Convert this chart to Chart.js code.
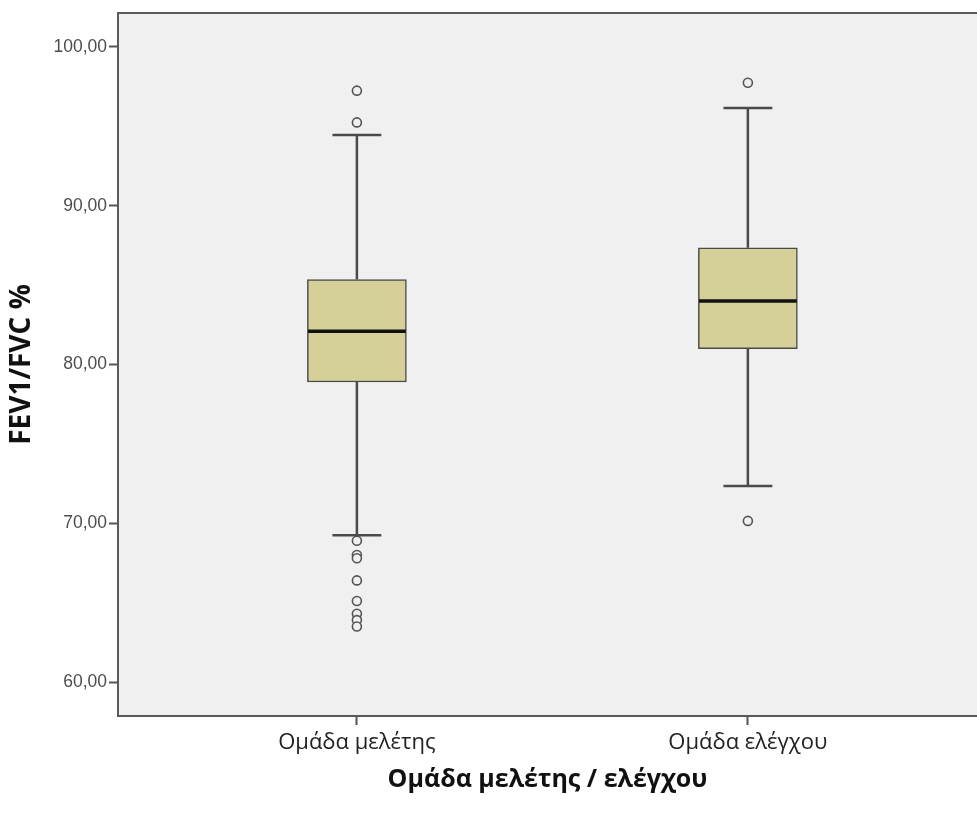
<!DOCTYPE html>
<html>
<head>
<meta charset="utf-8">
<script src="https://cdn.jsdelivr.net/npm/chart.js@4.4.1/dist/chart.umd.min.js"></script>
<style>
    html, body { margin: 0; padding: 0; background: #fff; overflow: hidden; }
    #chart { display: block; }
</style>
</head>
<body>
<canvas id="chart" width="977" height="816"></canvas>
<script>
// Box plot data
const groups = ['Ομάδα μελέτης', 'Ομάδα ελέγχου'];
const groupPos = [1, 2];
const whiskerLow = [69.25, 72.35];
const q1 = [78.9, 81.0];
const medians = [82.1, 84.0];
const q3 = [85.35, 87.35];
const whiskerHigh = [94.45, 96.15];
const outliersStudy = [97.25, 95.25, 68.9, 68.0, 67.8, 66.4, 65.1, 64.3, 63.9, 63.5];
const outliersControl = [97.75, 70.15];
const yTicks = [60, 70, 80, 90, 100];

const boxColor = '#d5d097';
const lineColor = '#4a4a4a';

// fond gris de la zone de tracé + cadre du haut
const plotBackground = {
    id: 'plotBackground',
    beforeDraw(chart) {
        const { ctx, chartArea: a } = chart;
        ctx.save();
        ctx.fillStyle = '#f0f0f0';
        ctx.fillRect(a.left, a.top, a.right - a.left, a.bottom - a.top);
        ctx.strokeStyle = '#5a5a5a';
        ctx.lineWidth = 2;
        ctx.beginPath();
        ctx.moveTo(a.left, a.top);
        ctx.lineTo(a.right, a.top);
        ctx.stroke();
        ctx.restore();
    }
};

// moustaches et médianes, dessinées à partir des échelles
const boxExtras = {
    id: 'boxExtras',
    afterDatasetsDraw(chart) {
        const { ctx, scales: { x, y } } = chart;
        ctx.save();
        groupPos.forEach((pos, i) => {
            const cx = x.getPixelForValue(pos);
            const capHalf = x.getPixelForValue(pos + 0.0625) - cx;
            const boxHalf = x.getPixelForValue(pos + 0.125) - cx;
            ctx.strokeStyle = lineColor;
            ctx.lineWidth = 2.5;
            ctx.beginPath();
            ctx.moveTo(cx, y.getPixelForValue(q3[i]));
            ctx.lineTo(cx, y.getPixelForValue(whiskerHigh[i]));
            ctx.moveTo(cx, y.getPixelForValue(q1[i]));
            ctx.lineTo(cx, y.getPixelForValue(whiskerLow[i]));
            ctx.moveTo(cx - capHalf, y.getPixelForValue(whiskerHigh[i]));
            ctx.lineTo(cx + capHalf, y.getPixelForValue(whiskerHigh[i]));
            ctx.moveTo(cx - capHalf, y.getPixelForValue(whiskerLow[i]));
            ctx.lineTo(cx + capHalf, y.getPixelForValue(whiskerLow[i]));
            ctx.stroke();

            ctx.strokeStyle = '#111';
            ctx.lineWidth = 3.5;
            ctx.beginPath();
            ctx.moveTo(cx - boxHalf, y.getPixelForValue(medians[i]));
            ctx.lineTo(cx + boxHalf, y.getPixelForValue(medians[i]));
            ctx.stroke();
        });
        ctx.restore();
    }
};

const outlierPoints = [
    ...outliersStudy.map(v => ({ x: groupPos[0], y: v })),
    ...outliersControl.map(v => ({ x: groupPos[1], y: v }))
];

new Chart(document.getElementById('chart'), {
    type: 'bar',
    data: {
        datasets: [
            {
                type: 'bar',
                data: groupPos.map((pos, i) => ({ x: pos, y: [q1[i], q3[i]] })),
                backgroundColor: boxColor,
                borderColor: lineColor,
                borderWidth: 1.5,
                borderSkipped: false,
                barThickness: 99,
                order: 2
            },
            {
                type: 'scatter',
                data: outlierPoints,
                pointRadius: 4.5,
                pointBorderWidth: 1.6,
                pointBorderColor: '#555',
                pointBackgroundColor: '#f0f0f0',
                order: 1
            }
        ]
    },
    options: {
        responsive: false,
        animation: false,
        layout: {
            autoPadding: false,
            padding: { top: 13, right: 0, left: 0, bottom: 0 }
        },
        plugins: {
            legend: { display: false },
            tooltip: { enabled: false }
        },
        scales: {
            x: {
                type: 'linear',
                offset: false,
                min: 0.389,
                max: 2.586,
                afterBuildTicks: axis => {
                    axis.ticks = groupPos.map(v => ({ value: v }));
                },
                afterFit: axis => {
                    axis.height = 100;
                    axis.paddingRight = 0;
                },
                ticks: {
                    callback: v => groups[groupPos.indexOf(v)] || '',
                    color: '#222',
                    font: { family: 'Open Sans', size: 22 },
                    padding: 5,
                    maxRotation: 0
                },
                grid: {
                    offset: false,
                    drawOnChartArea: false,
                    drawTicks: true,
                    tickLength: 9,
                    tickWidth: 2,
                    tickColor: '#555'
                },
                border: { display: true, color: '#5a5a5a', width: 2 },
                title: {
                    display: true,
                    text: 'Ομάδα μελέτης / ελέγχου',
                    color: '#111',
                    font: { family: 'Open Sans', size: 25, weight: 'bold' },
                    padding: { top: 0, bottom: 21 }
                }
            },
            y: {
                min: 57.86,
                max: 102.14,
                afterBuildTicks: axis => {
                    axis.ticks = yTicks.map(v => ({ value: v }));
                },
                afterFit: axis => { axis.width = 118; },
                ticks: {
                    callback: v => v.toFixed(2).replace('.', ','),
                    color: '#4d4d4d',
                    font: { family: 'Liberation Sans', size: 17.5 },
                    padding: 2
                },
                grid: {
                    drawOnChartArea: false,
                    drawTicks: true,
                    tickLength: 9,
                    tickWidth: 2,
                    tickColor: '#555'
                },
                border: { display: true, color: '#5a5a5a', width: 2 },
                title: {
                    display: true,
                    text: 'FEV1/FVC %',
                    color: '#111',
                    font: { family: 'Open Sans', size: 28, weight: 'bold' },
                    padding: { top: 5, bottom: 0 }
                }
            }
        }
    },
    plugins: [plotBackground, boxExtras]
});
</script>
</body>
</html>
